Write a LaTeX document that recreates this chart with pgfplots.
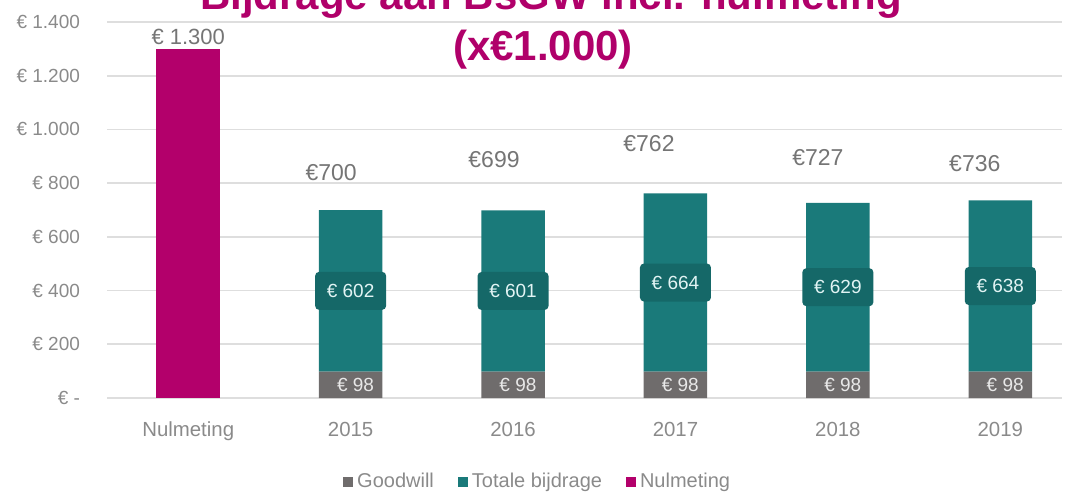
\documentclass[border=0pt]{standalone}
\usepackage{fontspec}
\setmainfont{Liberation Sans}
\usepackage{pgfplots}
\pgfplotsset{compat=1.18}
\definecolor{mag}{HTML}{B3006B}
\definecolor{tealc}{HTML}{1A7A7A}
\definecolor{tealbox}{HTML}{156868}
\definecolor{gw}{HTML}{6F6C6C}
\definecolor{gridc}{HTML}{DEDEDE}
\definecolor{tickc}{HTML}{8A8A8A}
\definecolor{labc}{HTML}{757575}
\definecolor{titc}{HTML}{B0006A}
\definecolor{inlab}{HTML}{E2F4F4}
\definecolor{gwlab}{HTML}{E8E8E8}
\tikzset{
  tbox/.style={fill=tealbox, rounded corners=2pt, minimum width=35.5pt, minimum height=19pt, inner sep=0pt, font=\fontsize{9.5pt}{11pt}\selectfont, text=inlab},
  gbox/.style={font=\fontsize{9.5pt}{11pt}\selectfont, text=gwlab, inner sep=0pt},
  tot/.style={fill=white, inner sep=1pt, font=\fontsize{11.5pt}{13pt}\selectfont, text=labc},
}
\begin{document}
\begin{tikzpicture}
\useasboundingbox (0,0) rectangle (535pt,246.5pt);
\begin{axis}[
  at={(53.5pt,47.5pt)}, anchor=south west,
  scale only axis, width=477.5pt, height=188pt,
  ybar stacked, bar width=31.75pt,
  xmin=-0.5, xmax=5.38, ymin=0, ymax=1400,
  axis line style={draw=none},
  major tick length=0pt,
  ymajorgrids, grid style={draw=gridc, line width=0.9pt},
  ytick={0,200,400,600,800,1000,1200,1400},
  yticklabels={€ -,€ 200,€ 400,€ 600,€ 800,€ 1.000,€ 1.200,€ 1.400},
  yticklabel style={font=\fontsize{9.5pt}{11pt}\selectfont, text=tickc, anchor=east, xshift=-10pt},
  xtick={0,1,2,3,4,5},
  xticklabels={Nulmeting,2015,2016,2017,2018,2019},
  xticklabel style={font=\fontsize{10.2pt}{12pt}\selectfont, text=tickc, anchor=north, yshift=-8.5pt},
  legend style={at={(0.452,-0.223)}, anchor=center, draw=none, fill=none,
    legend columns=3, font=\fontsize{10pt}{12pt}\selectfont, text=tickc,
    /tikz/every even column/.append style={column sep=10pt}},
  legend image code/.code={\fill[#1] (0pt,-2.5pt) rectangle (5pt,2.5pt);},
  clip=false,
]
\addplot[fill=gw, draw=none] coordinates {(0,0) (1,98) (2,98) (3,98) (4,98) (5,98)};
\addplot[fill=tealc, draw=none] coordinates {(0,0) (1,602) (2,601) (3,664) (4,629) (5,638)};
\addplot[fill=mag, draw=none] coordinates {(0,1300) (1,0) (2,0) (3,0) (4,0) (5,0)};
\legend{Goodwill, Totale bijdrage, Nulmeting}
\coordinate (g1) at (axis cs:1.03,49);
\coordinate (g2) at (axis cs:2.03,49);
\coordinate (g3) at (axis cs:3.03,49);
\coordinate (g4) at (axis cs:4.03,49);
\coordinate (g5) at (axis cs:5.03,49);
\coordinate (t1) at (axis cs:1,399);
\coordinate (t2) at (axis cs:2,398.5);
\coordinate (t3) at (axis cs:3,430);
\coordinate (t4) at (axis cs:4,412.5);
\coordinate (t5) at (axis cs:5,417);
\coordinate (s0) at (axis cs:0,1344);
\coordinate (s1) at (axis cs:0.88,841);
\coordinate (s2) at (axis cs:1.883,886);
\coordinate (s3) at (axis cs:2.837,949);
\coordinate (s4) at (axis cs:3.877,897);
\coordinate (s5) at (axis cs:4.843,871);
\end{axis}
\node[gbox] at (g1) {€ 98};
\node[gbox] at (g2) {€ 98};
\node[gbox] at (g3) {€ 98};
\node[gbox] at (g4) {€ 98};
\node[gbox] at (g5) {€ 98};
\node[tbox] at (t1) {€ 602};
\node[tbox] at (t2) {€ 601};
\node[tbox] at (t3) {€ 664};
\node[tbox] at (t4) {€ 629};
\node[tbox] at (t5) {€ 638};
\node[tot, font=\fontsize{11pt}{13pt}\selectfont] at (s0) {€ 1.300};
\node[tot] at (s1) {€700};
\node[tot] at (s2) {€699};
\node[tot] at (s3) {€762};
\node[tot] at (s4) {€727};
\node[tot] at (s5) {€736};
\node[anchor=base, font=\fontsize{21pt}{25pt}\selectfont\bfseries, text=titc, inner sep=0pt] at (275.5pt,241.5pt) {Bijdrage aan BsGW incl. nulmeting};
\node[anchor=base, font=\fontsize{21pt}{25pt}\selectfont\bfseries, text=titc, inner sep=0pt] at (271.5pt,216pt) {(x€1.000)};
\end{tikzpicture}
\end{document}
